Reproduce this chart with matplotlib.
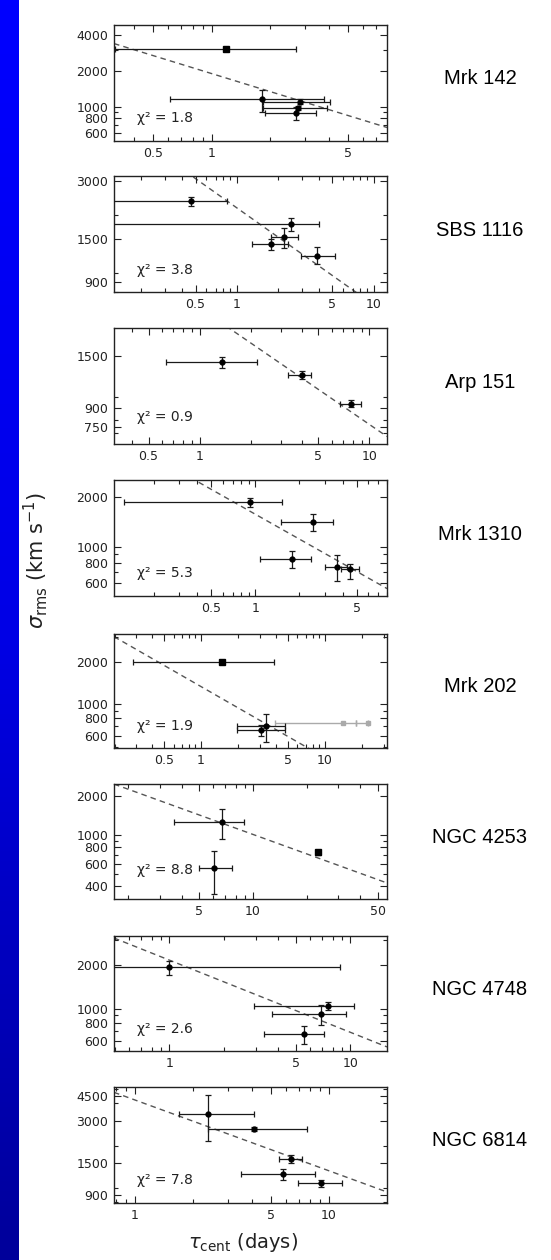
import numpy as np
import matplotlib
matplotlib.use("Agg")
import matplotlib.pyplot as plt
from matplotlib.ticker import FixedLocator, FixedFormatter, NullFormatter
from matplotlib.colors import LinearSegmentedColormap

plt.rcParams['mathtext.fontset'] = 'dejavusans'

# ---------------- data ----------------
names = ["Mrk 142", "SBS 1116", "Arp 151", "Mrk 1310",
         "Mrk 202", "NGC 4253", "NGC 4748", "NGC 6814"]
chi2 = [1.8, 3.8, 0.9, 5.3, 1.9, 8.8, 2.6, 7.8]
fit_norm = [1892, 2173, 2421, 1581, 1336, 3188, 2166, 4200]   # sigma at tau = 1 day
fit_slope = -0.5

# Mrk 142
tau_1 = [1.19, 1.81, 2.84, 2.77, 2.71]
tau_lo_1 = [0.32, 0.61, 1.84, 1.84, 1.88]
tau_hi_1 = [2.71, 3.78, 4.06, 3.90, 3.44]
sig_1 = [3015, 1151, 1101, 968, 880]
sig_lo_1 = [2940, 908, 1060, 930, 775]
sig_hi_1 = [3090, 1378, 1150, 1010, 990]
sq_1 = [1, 0, 0, 0, 0]

# SBS 1116
tau_2 = [0.461, 2.48, 2.22, 1.78, 3.85]
tau_lo_2 = [0.09, 0.09, 1.77, 1.29, 2.96]
tau_hi_2 = [0.845, 4.0, 2.80, 2.35, 5.19]
sig_2 = [2345, 1786, 1530, 1407, 1221]
sig_lo_2 = [2220, 1656, 1343, 1310, 1114]
sig_hi_2 = [2470, 1925, 1710, 1500, 1370]
sq_2 = [0, 0, 0, 0, 0]

# Arp 151
tau_3 = [1.357, 4.0, 7.79]
tau_lo_3 = [0.635, 3.32, 6.74]
tau_hi_3 = [2.165, 4.52, 8.93]
sig_3 = [1413, 1247, 936]
sig_lo_3 = [1337, 1198, 906]
sig_hi_3 = [1486, 1295, 970]
sq_3 = [0, 0, 0]

# Mrk 1310
tau_4 = [0.919, 2.51, 1.79, 3.64, 4.45]
tau_lo_4 = [0.125, 1.50, 1.08, 3.02, 3.88]
tau_hi_4 = [1.52, 3.41, 2.42, 4.27, 5.13]
sig_4 = [1864, 1414, 845, 759, 728]
sig_lo_4 = [1754, 1252, 748, 618, 641]
sig_hi_4 = [1991, 1575, 937, 898, 791]
sq_4 = [0, 0, 0, 0, 0]

# Mrk 202
tau_5 = [1.48, 3.07, 3.32]
tau_lo_5 = [0.284, 1.96, 1.96]
tau_hi_5 = [3.88, 4.77, 4.77]
sig_5 = [2000, 659, 703]
sig_lo_5 = [1950, 600, 542]
sig_hi_5 = [2050, 720, 863]
sq_5 = [1, 0, 0]
# Mrk 202, grey points
tau_5g = [14.1, 22.2]
tau_lo_5g = [3.95, 17.8]
tau_hi_5g = [17.8, 22.2]
sig_5g = [735, 735]

# NGC 4253
tau_6 = [6.68, 6.07, 23.3]
tau_lo_6 = [3.62, 4.97, 23.3]
tau_hi_6 = [8.96, 7.66, 23.3]
sig_6 = [1253, 550, 731]
sig_lo_6 = [931, 349, 700]
sig_hi_6 = [1578, 745, 760]
sq_6 = [0, 0, 1]

# NGC 4748
tau_7 = [1.0, 7.49, 6.88, 5.52]
tau_lo_7 = [0.40, 2.94, 3.68, 3.34]
tau_hi_7 = [8.81, 10.43, 9.46, 7.18]
sig_7 = [1926, 1043, 913, 663]
sig_lo_7 = [1714, 973, 766, 565]
sig_hi_7 = [2132, 1118, 1060, 754]
sq_7 = [0, 0, 0, 0]

# NGC 6814
tau_8 = [2.39, 4.09, 6.39, 5.81, 9.13]
tau_lo_8 = [1.69, 2.39, 5.51, 3.53, 6.91]
tau_hi_8 = [4.09, 7.67, 7.22, 8.47, 11.7]
sig_8 = [3340, 2620, 1616, 1260, 1084]
sig_lo_8 = [2168, 2520, 1500, 1143, 1020]
sig_hi_8 = [4550, 2720, 1725, 1373, 1150]
sq_8 = [0, 0, 0, 0, 0]

# axis ranges and tick labels
xlims = [(0.315, 7.96), (0.127, 12.5), (0.313, 12.7), (0.107, 8.05),
         (0.198, 31.8), (1.665, 56.4), (0.496, 15.96), (0.779, 19.9)]
ylims = [(517, 4820), (800, 3170), (631, 1985), (502, 2553),
         (494, 3133), (319, 2475), (508, 3177), (787, 5190)]
xtick_vals = [[0.5, 1, 5], [0.5, 1, 5, 10], [0.5, 1, 5, 10], [0.5, 1, 5],
              [0.5, 1, 5, 10], [5, 10, 50], [1, 5, 10], [1, 5, 10]]
xtick_labels = [["0.5", "1", "5"], ["0.5", "1", "5", "10"], ["0.5", "1", "5", "10"],
                ["0.5", "1", "5"], ["0.5", "1", "5", "10"], ["5", "10", "50"],
                ["1", "5", "10"], ["1", "5", "10"]]
ytick_vals = [[600, 800, 1000, 2000, 4000], [900, 1500, 3000], [750, 900, 1500],
              [600, 800, 1000, 2000], [600, 800, 1000, 2000],
              [400, 600, 800, 1000, 2000], [600, 800, 1000, 2000],
              [900, 1500, 3000, 4500]]

panels = [
    (tau_1, tau_lo_1, tau_hi_1, sig_1, sig_lo_1, sig_hi_1, sq_1),
    (tau_2, tau_lo_2, tau_hi_2, sig_2, sig_lo_2, sig_hi_2, sq_2),
    (tau_3, tau_lo_3, tau_hi_3, sig_3, sig_lo_3, sig_hi_3, sq_3),
    (tau_4, tau_lo_4, tau_hi_4, sig_4, sig_lo_4, sig_hi_4, sq_4),
    (tau_5, tau_lo_5, tau_hi_5, sig_5, sig_lo_5, sig_hi_5, sq_5),
    (tau_6, tau_lo_6, tau_hi_6, sig_6, sig_lo_6, sig_hi_6, sq_6),
    (tau_7, tau_lo_7, tau_hi_7, sig_7, sig_lo_7, sig_hi_7, sq_7),
    (tau_8, tau_lo_8, tau_hi_8, sig_8, sig_lo_8, sig_hi_8, sq_8),
]

# ---------------- layout ----------------
W, H = 551, 1260
fig = plt.figure(figsize=(W / 100, H / 100), dpi=100)
fig.patch.set_facecolor("white")

# blue strip at the left edge
strip = fig.add_axes([0, 0, 19 / W, 1])
grad = np.linspace(0, 1, 256).reshape(-1, 1)
cmap = LinearSegmentedColormap.from_list("strip", ["#0000ff", "#0000e6", "#00009a"])
strip.imshow(grad, aspect="auto", cmap=cmap, extent=[0, 1, 0, 1], origin="upper")
strip.set_axis_off()

ax_left, ax_right = 114, 387
tops = [25, 176, 328, 480, 634, 784, 936, 1087]
heights = [116, 116, 116, 116, 114, 115, 115, 116]
chi_y = [0.195, 0.19, 0.23, 0.195, 0.195, 0.255, 0.19, 0.2]

frame_col = "#222222"
err_col = "#1a1a1a"

def log_minor(lo, hi, majors):
    vals = []
    for e in range(int(np.floor(np.log10(lo))) - 1, int(np.ceil(np.log10(hi))) + 1):
        for s in range(1, 10):
            v = s * 10.0 ** e
            if lo <= v <= hi and not any(abs(v - m) / m < 1e-6 for m in majors):
                vals.append(v)
    return vals

for i in range(8):
    top = tops[i]
    h = heights[i]
    ax = fig.add_axes([ax_left / W, 1 - (top + h) / H, (ax_right - ax_left) / W, h / H])
    ax.set_xscale("log")
    ax.set_yscale("log")
    xl, yl = xlims[i], ylims[i]

    # fit line
    xx = np.geomspace(xl[0], xl[1], 200)
    ax.plot(xx, fit_norm[i] * xx ** fit_slope, ls=(0, (4, 3)), color="#555555", lw=1.0, zorder=1)

    tau, tlo, thi, sig, slo, shi, sq = panels[i]
    tau = np.array(tau, float); tlo = np.array(tlo, float); thi = np.array(thi, float)
    sig = np.array(sig, float); slo = np.array(slo, float); shi = np.array(shi, float)
    sq = np.array(sq, bool)

    if i == 4:
        tg = np.array(tau_5g, float)
        ax.errorbar(tg, sig_5g, xerr=[tg - np.array(tau_lo_5g), np.array(tau_hi_5g) - tg],
                    fmt="s", ms=3.5, color="#aaaaaa", ecolor="#aaaaaa",
                    elinewidth=1.0, capsize=2.5, capthick=1.0, zorder=2)

    for m, mk, ms in ((~sq, "o", 3.5), (sq, "s", 4.0)):
        if m.any():
            ax.errorbar(tau[m], sig[m],
                        xerr=[tau[m] - tlo[m], thi[m] - tau[m]],
                        yerr=[sig[m] - slo[m], shi[m] - sig[m]],
                        fmt=mk, ms=ms, color="black", ecolor=err_col,
                        elinewidth=0.9, capsize=2.5, capthick=0.9, zorder=3)

    ax.set_xlim(xl)
    ax.set_ylim(yl)

    ax.xaxis.set_major_locator(FixedLocator(xtick_vals[i]))
    ax.xaxis.set_major_formatter(FixedFormatter(xtick_labels[i]))
    ax.xaxis.set_minor_locator(FixedLocator(log_minor(xl[0], xl[1], xtick_vals[i])))
    ax.xaxis.set_minor_formatter(NullFormatter())
    ax.yaxis.set_major_locator(FixedLocator(ytick_vals[i]))
    ax.yaxis.set_major_formatter(FixedFormatter([str(v) for v in ytick_vals[i]]))
    ax.yaxis.set_minor_locator(FixedLocator(log_minor(yl[0], yl[1], ytick_vals[i])))
    ax.yaxis.set_minor_formatter(NullFormatter())

    ax.tick_params(which="both", direction="in", top=True, right=True,
                   color=frame_col, width=0.8, labelsize=9, labelcolor="#222222")
    ax.tick_params(which="major", length=5, pad=4)
    ax.tick_params(which="minor", length=2.8)
    for sp in ax.spines.values():
        sp.set_color(frame_col)
        sp.set_linewidth(1.0)

    ax.text(0.085, chi_y[i], "χ² = %.1f" % chi2[i], transform=ax.transAxes,
            fontsize=10, color="#222222", ha="left", va="center")

    fig.text(480 / W, 1 - (top + h / 2 - 4) / H, names[i], fontsize=14.5,
             family="Liberation Sans", ha="center", va="center", color="black")

fig.text(36 / W, 1 - 560 / H, r"$\sigma_{\rm rms}$ (km s$^{-1}$)", rotation=90,
         fontsize=15, ha="center", va="center", color="#222222")
fig.text(243 / W, 1 - 1243 / H, r"$\tau_{\rm cent}$ (days)", fontsize=14,
         ha="center", va="center", color="#222222")

fig.savefig("out.png", dpi=100, facecolor="white")
